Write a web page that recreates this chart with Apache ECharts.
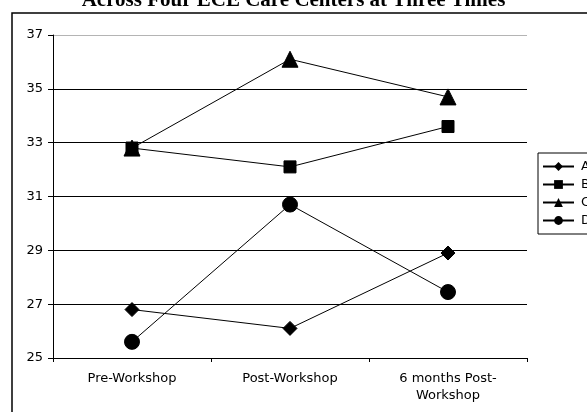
<!DOCTYPE html>
<html>
<head>
<meta charset="utf-8">
<script src="https://cdn.jsdelivr.net/npm/echarts@6/dist/echarts.min.js"></script>
<style>
  html, body { margin: 0; padding: 0; background: #fff; }
  #chart { width: 587px; height: 412px; }
</style>
</head>
<body>
<div id="chart"></div>
<script>
// Survey timepoints and centre scores
const categories = ['Pre-Workshop', 'Post-Workshop', '6 months Post-\nWorkshop'];
const seriesNames = ['A', 'B', 'C', 'D'];
const valuesA = [26.8, 26.1, 28.9];
const valuesB = [32.8, 32.1, 33.6];
const valuesC = [32.8, 36.1, 34.7];
const valuesD = [25.6, 30.7, 27.45];
const yTicks = { min: 25, max: 37, interval: 2 };

const symbols = ['diamond', 'rect', 'triangle', 'circle'];
const symbolSizes = [14, 12, 16, 15];
const allValues = [valuesA, valuesB, valuesC, valuesD];

const labelFont = 'DejaVu Sans';

const chart = echarts.init(document.getElementById('chart'), null, { renderer: 'canvas' });

chart.setOption({
  animation: false,
  backgroundColor: '#fff',
  title: {
    text: 'Across Four ECE Care Centers at Three Times',
    left: 'center',
    top: -15,
    textStyle: { fontFamily: 'Liberation Serif', fontWeight: 'bold', fontSize: 21, color: '#000' }
  },
  graphic: [{
    type: 'rect',
    shape: { x: 12, y: 13, width: 620, height: 440 },
    style: { fill: 'none', stroke: '#000', lineWidth: 1.5 },
    z: -1
  }],
  grid: { left: 53, right: 60, top: 35, bottom: 54 },
  legend: {
    orient: 'vertical',
    left: 538,
    top: 153,
    padding: [6, 20, 6, 4],
    itemGap: 3,
    itemWidth: 31,
    itemHeight: 11,
    borderColor: '#000',
    borderWidth: 1,
    textStyle: { fontFamily: labelFont, fontSize: 13, lineHeight: 15, color: '#000', padding: [0, 0, 0, 2] },
    data: seriesNames
  },
  xAxis: {
    type: 'category',
    data: categories,
    boundaryGap: true,
    axisLine: { lineStyle: { color: '#000', width: 1 } },
    axisTick: { show: true, alignWithLabel: false, length: 4, lineStyle: { color: '#000' } },
    axisLabel: { fontFamily: labelFont, fontSize: 13, color: '#000', margin: 12, lineHeight: 17 }
  },
  yAxis: {
    type: 'value',
    min: yTicks.min,
    max: yTicks.max,
    interval: yTicks.interval,
    axisLine: { show: true, lineStyle: { color: '#000', width: 1 } },
    axisTick: { show: true, length: 5, lineStyle: { color: '#000' } },
    axisLabel: { fontFamily: labelFont, fontSize: 13, color: '#000', margin: 10 },
    splitLine: {
      show: true,
      lineStyle: { color: ['#000', '#000', '#000', '#000', '#000', '#000', '#b4b4b4'], width: 1 }
    }
  },
  series: seriesNames.map((name, i) => ({
    name,
    type: 'line',
    data: allValues[i],
    symbol: symbols[i],
    symbolSize: symbolSizes[i],
    showAllSymbol: true,
    lineStyle: { color: '#000', width: 1 },
    itemStyle: { color: '#000', borderColor: '#000' },
    z: 2 + (i === 1 ? 1 : 0)
  }))
});
</script>
</body>
</html>
